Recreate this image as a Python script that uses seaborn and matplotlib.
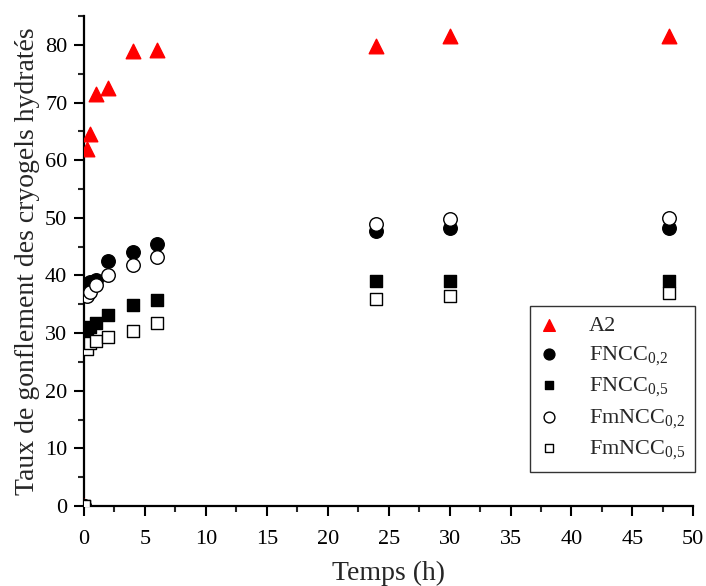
import pandas as pd
import matplotlib
matplotlib.use("Agg")
import matplotlib.pyplot as plt
import seaborn as sns

# temps de mesure (h)
temps = [0, 0.25, 0.5, 1, 2, 4, 6, 24, 30, 48]

# taux de gonflement par échantillon
a2 = [0, 62.0, 64.5, 71.5, 72.5, 79.0, 79.1, 79.8, 81.5, 81.5]
fncc_02 = [0, 38.5, 38.8, 39.2, 42.5, 44.0, 45.4, 47.7, 48.2, 48.2]
fncc_05 = [0, 30.6, 31.0, 31.8, 33.1, 34.8, 35.8, 39.0, 39.0, 39.0]
fmncc_02 = [0, 36.4, 37.2, 38.3, 40.0, 41.8, 43.2, 49.0, 49.8, 49.9]
fmncc_05 = [0, 27.2, 28.2, 28.6, 29.3, 30.4, 31.8, 36.0, 36.5, 37.0]

labels = ["A2", "FNCC$_\\mathregular{0{,}2}$", "FNCC$_\\mathregular{0{,}5}$",
          "FmNCC$_\\mathregular{0{,}2}$", "FmNCC$_\\mathregular{0{,}5}$"]

sns.set_style("ticks")
plt.rcParams["font.family"] = "serif"
plt.rcParams["font.serif"] = ["Liberation Serif", "DejaVu Serif"]
plt.rcParams["mathtext.fontset"] = "custom"
plt.rcParams["mathtext.rm"] = "Liberation Serif"

fig = plt.figure(figsize=(7.06, 5.86), dpi=100)
ax = fig.add_axes([0.119, 0.1365, 0.863, 0.836])

series = [
    (a2, "^", "red", "red", 110),
    (fncc_02, "o", "black", "black", 95),
    (fncc_05, "s", "black", "black", 65),
    (fmncc_02, "o", "white", "black", 95),
    (fmncc_05, "s", "white", "black", 65),
]
for (vals, mk, fc, ec, s), lab in zip(series, labels):
    df = pd.DataFrame({"t": temps, "v": vals})
    sns.scatterplot(data=df, x="t", y="v", marker=mk, color=fc, edgecolor=ec,
                    linewidth=1.0, s=s, label=lab, ax=ax, zorder=3)

ax.set_xlim(0, 50)
ax.set_ylim(0, 85)
ax.set_xticks(range(0, 51, 5))
ax.set_xticks([x + 2.5 for x in range(0, 50, 5)], minor=True)
ax.set_yticks(range(0, 81, 10))
ax.set_yticks([y + 5 for y in range(0, 81, 10)], minor=True)
ax.tick_params(which="major", direction="out", length=7, width=1.5, labelsize=16, colors="black")
ax.tick_params(which="minor", direction="out", length=4, width=1.5)
ax.tick_params(axis="x", which="major", pad=10)
ax.tick_params(axis="y", which="major", pad=5)
for side in ["top", "right"]:
    ax.spines[side].set_visible(False)
for side in ["left", "bottom"]:
    ax.spines[side].set_linewidth(1.6)
    ax.spines[side].set_color("black")

ax.set_xlabel("Temps (h)", fontsize=20, labelpad=9)
ax.set_ylabel("Taux de gonflement des cryogels hydratés", fontsize=20, labelpad=4)

leg = ax.legend(loc="lower right", bbox_to_anchor=(1.003, 0.069), fontsize=16,
                frameon=True, fancybox=False, edgecolor="black",
                handlelength=0.8, handletextpad=1.4, labelspacing=0.36,
                borderpad=0.45, borderaxespad=0, markerscale=0.8)
leg.get_frame().set_linewidth(1.0)

fig.savefig("out.png", dpi=100)
